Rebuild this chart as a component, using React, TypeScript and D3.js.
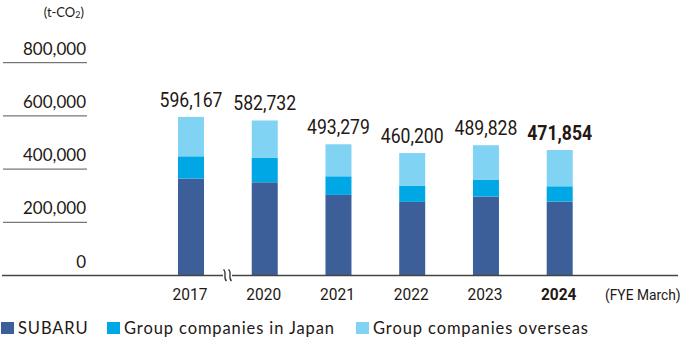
import React from "react";
import * as d3 from "d3";

const years = ["2017", "2020", "2021", "2022", "2023", "2024"];
const totals = [596167, 582732, 493279, 460200, 489828, 471854];
const subaru = [364300, 350400, 303000, 276700, 296700, 277900];
const japan = [83800, 91600, 70000, 61300, 63900, 57500];
const overseas = totals.map((t, i) => t - subaru[i] - japan[i]);
const yTicks = [0, 200000, 400000, 600000, 800000];
const seriesNames = ["SUBARU", "Group companies in Japan", "Group companies overseas"];
const colors = ["#3c5f99", "#00a7e5", "#80d3f3"];

const W = 680;
const H = 343;

export default function App() {
  const y = d3.scaleLinear().domain([0, 800000]).range([275.5, 62.7]);
  const x = d3.scalePoint<string>().domain(years).range([191, 559.7]);
  const bw = 26;
  const fmt = d3.format(",");
  const geo = "Lato, 'Noto Sans', sans-serif";
  const cond = "Roboto, 'Liberation Sans', sans-serif";

  const stackData = years.map((yr, i) => ({ yr, s0: subaru[i], s1: japan[i], s2: overseas[i] }));
  const stack = d3.stack<any>().keys(["s0", "s1", "s2"])(stackData);

  const legendX = [1, 107, 356];

  return (
    <svg width={W} height={H} style={{ position: "absolute", left: 0, top: 0, background: "#fff" }}>
      <text x={84} y={17} textAnchor="end" fontFamily={geo} fontSize={13} fill="#231815">
        (t-CO<tspan fontSize={9} dy={1}>2</tspan><tspan dy={-1}>)</tspan>
      </text>
      {yTicks.map((t) => (
        <g key={t}>
          {t > 0 && <line x1={3} x2={87} y1={y(t)} y2={y(t)} stroke="#555" strokeWidth={1} />}
          <text x={86} y={y(t) - 8} textAnchor="end" fontFamily={geo} fontSize={17} fill="#231815">
            {fmt(t)}
          </text>
        </g>
      ))}
      {stack.map((layer, li) =>
        layer.map((d, i) => (
          <rect
            key={li + "-" + i}
            x={(x(years[i]) as number) - bw / 2}
            y={y(d[1])}
            width={bw}
            height={y(d[0]) - y(d[1])}
            fill={colors[li]}
          />
        ))
      )}
      <line x1={2} x2={678} y1={y(0)} y2={y(0)} stroke="#444" strokeWidth={1.5} />
      <rect x={223} y={y(0) - 3} width={9} height={6} fill="#fff" />
      {[225, 230].map((bx) => (
        <path
          key={bx}
          d={`M${bx - 1.5},${y(0) - 6} C${bx + 2.5},${y(0) - 3} ${bx - 2.5},${y(0) + 2} ${bx + 1.5},${y(0) + 5.5}`}
          fill="none"
          stroke="#333"
          strokeWidth={1.3}
        />
      ))}
      {years.map((yr, i) => (
        <g key={"v" + yr} transform={`translate(${x(yr)},${y(totals[i]) - 10}) scale(0.84,1)`}>
          <text
            x={0}
            y={0}
            textAnchor="middle"
            fontFamily={cond}
            fontSize={21}
            fontWeight={i === years.length - 1 ? 700 : 400}
            fill="#231815"
          >
            {fmt(totals[i])}
          </text>
        </g>
      ))}
      {years.map((yr, i) => (
        <g key={"x" + yr} transform={`translate(${(x(yr) as number) - 1},299.5) scale(0.97,1)`}>
          <text
            x={0}
            y={0}
            textAnchor="middle"
            fontFamily={cond}
            fontSize={16}
            fontWeight={i === years.length - 1 ? 700 : 400}
            fill="#231815"
          >
            {yr}
          </text>
        </g>
      ))}
      <g transform="translate(605,300) scale(0.92,1)">
        <text x={0} y={0} fontFamily={cond} fontSize={15} fill="#231815">
          (FYE March)
        </text>
      </g>
      {seriesNames.map((n, i) => (
        <g key={n}>
          <rect x={legendX[i]} y={322} width={13} height={12} fill={colors[i]} />
          <text x={legendX[i] + 17} y={334} fontFamily={geo} fontSize={16.5} letterSpacing={0.9} fill="#231815">
            {n}
          </text>
        </g>
      ))}
    </svg>
  );
}
